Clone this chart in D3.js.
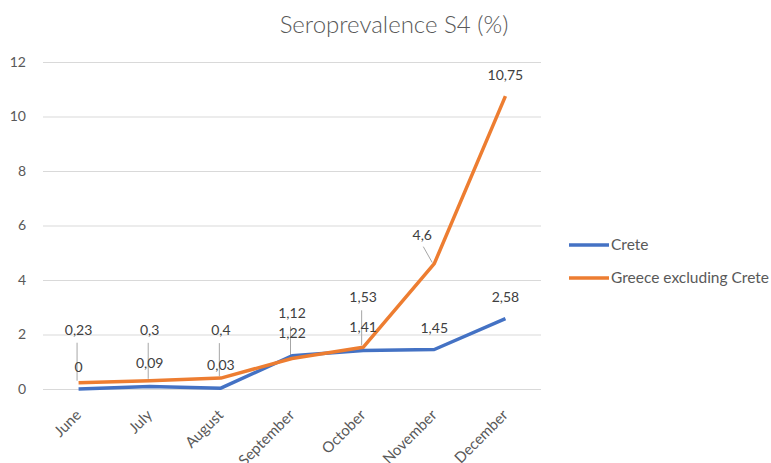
<!DOCTYPE html>
<html><head><meta charset="utf-8">
<script src="https://cdn.jsdelivr.net/npm/d3@7"></script>
<style>body{margin:0;background:#fff}</style>
</head><body>
<svg id="c" width="771" height="463"></svg>
<script>
const months = ["June","July","August","September","October","November","December"];
const crete = [0,0.09,0.03,1.22,1.41,1.45,2.58];
const greece = [0.23,0.3,0.4,1.12,1.53,4.6,10.75];
const yTicks = [0,2,4,6,8,10,12];
const seriesNames = ["Crete","Greece excluding Crete"];
const colors = ["#4472C4","#ED7D31"];
// label placement: offset of label centre from point, px
const greeceLabelDx = [0,0,0,0,0,-12,0];
const greeceLabelDy = [-53,-51,-48,-45,-50,-29,-21];
const creteLabelDy = [-22,-23,-23,-23,-23,-21,-22];
const greeceLeader = [true,true,true,true,true,true,false];

const svg = d3.select("#c");
const font = "Lato, 'Open Sans', sans-serif";
const grey = "#595959";
const x = d3.scalePoint().domain(months).range([43,541]).padding(0.5);
const y = d3.scaleLinear().domain([0,12]).range([389,62]);

svg.append("text").attr("x",394).attr("y",25).attr("dy","0.35em").attr("text-anchor","middle")
  .attr("font-family",font).attr("font-weight",300).attr("font-size",24).attr("fill",grey).text("Seroprevalence S4 (%)");

const yAxis = svg.append("g").attr("transform","translate(43,0)")
  .call(d3.axisLeft(y).tickValues(yTicks).tickSize(-498).tickPadding(17).tickFormat(d3.format("d")));
yAxis.select(".domain").remove();
yAxis.selectAll(".tick line").attr("stroke","#d9d9d9");
yAxis.selectAll(".tick text").attr("font-family",font).attr("font-size",14).attr("fill",grey);

const xAxis = svg.append("g").attr("transform","translate(0,389)")
  .call(d3.axisBottom(x).tickSize(0));
xAxis.select(".domain").remove();
xAxis.selectAll(".tick text").attr("font-family",font).attr("font-size",15).attr("fill",grey)
  .attr("text-anchor","end").attr("dy","0").attr("y",0).attr("transform","translate(3,27) rotate(-45)");

const line = d3.line().x((d,i)=>x(months[i])).y(d=>y(d));
// leader lines
greece.forEach((v,i)=>{
  if(!greeceLeader[i]) return;
  const px = x(months[i]), py = y(v);
  const lx = px + greeceLabelDx[i], ly = py + greeceLabelDy[i];
  if(greeceLabelDx[i] !== 0){
    svg.append("line").attr("x1",lx+1).attr("y1",ly+12).attr("x2",px-2).attr("y2",py-1)
      .attr("stroke","#a6a6a6").attr("stroke-width",1);
  } else {
    svg.append("line").attr("x1",px-1.5).attr("y1",ly+13).attr("x2",px-1.5).attr("y2",py-2)
      .attr("stroke","#a6a6a6").attr("stroke-width",1);
  }
});
[crete,greece].forEach((s,k)=>{
  svg.append("path").datum(s).attr("d",line).attr("fill","none")
    .attr("stroke",colors[k]).attr("stroke-width",3.5).attr("stroke-linejoin","round");
});
const fmt = v => String(v).replace(".",",");
function labels(s, dx, dy){
  s.forEach((v,i)=>{
    svg.append("text").attr("x",x(months[i])+dx[i]).attr("y",y(v)+dy[i]).attr("dy","0.35em")
      .attr("text-anchor","middle").attr("font-family",font).attr("font-size",14).attr("fill","#404040").text(fmt(v));
  });
}
labels(greece, greeceLabelDx, greeceLabelDy);
labels(crete, [0,0,0,0,0,0,0], creteLabelDy);

// legend
seriesNames.forEach((n,k)=>{
  const ly = 245 + k*33;
  svg.append("line").attr("x1",569).attr("x2",609).attr("y1",ly).attr("y2",ly)
    .attr("stroke",colors[k]).attr("stroke-width",3.5);
  svg.append("text").attr("x",611).attr("y",ly).attr("dy","0.35em").attr("font-family",font)
    .attr("font-size",15.5).attr("fill",grey).text(n);
});
</script>
</body></html>
